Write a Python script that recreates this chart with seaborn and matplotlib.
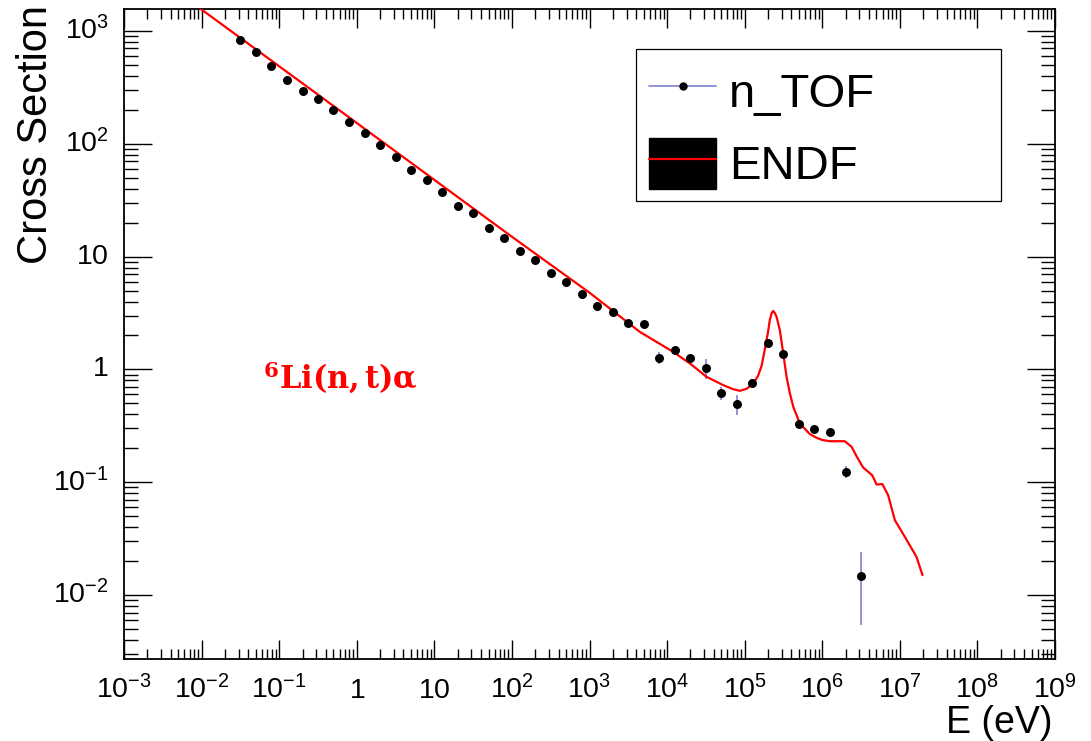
import numpy as np
import matplotlib
matplotlib.use("Agg")
import matplotlib.pyplot as plt
import seaborn as sns
from matplotlib.ticker import FixedLocator, LogLocator, FuncFormatter, NullFormatter
from matplotlib.lines import Line2D
from matplotlib.patches import Patch, Rectangle
from matplotlib.legend_handler import HandlerTuple

# ---------------- data ----------------
ntof_energy = [0.0316, 0.0501, 0.0794, 0.126, 0.200, 0.316, 0.501, 0.794,
               1.26, 2.00, 3.16, 5.01, 7.94, 12.6, 20.0, 31.6, 50.1, 79.4,
               126, 200, 316, 501, 794, 1.26e3, 2.00e3, 3.16e3, 5.01e3, 7.94e3,
               1.26e4, 2.00e4, 3.16e4, 5.01e4, 7.94e4, 1.26e5, 2.00e5, 3.16e5,
               5.01e5, 7.94e5, 1.26e6, 2.00e6, 3.16e6]
ntof_xs = [836, 646, 488, 365, 293, 248, 198, 156,
           124, 98.0, 76.2, 58.9, 47.7, 37.1, 28.0, 24.2, 18.0, 14.5,
           11.2, 9.31, 7.18, 5.94, 4.62, 3.66, 3.24, 2.59, 2.51, 1.27,
           1.49, 1.27, 1.03, 0.616, 0.492, 0.756, 1.70, 1.37,
           0.327, 0.296, 0.278, 0.124, 0.0148]
ntof_err = [12, 10, 7, 5, 4, 4, 3, 2.5,
            2, 1.5, 1.2, 0.9, 0.8, 0.6, 0.5, 0.4, 0.3, 0.3,
            0.2, 0.2, 0.15, 0.12, 0.1, 0.1, 0.12, 0.1, 0.12, 0.16,
            0.05, 0.07, 0.20, 0.076, 0.10, 0.06, 0.06, 0.05,
            0.015, 0.008, 0.008, 0.015, 0.0094]

endf_energy = [6.31e-3, 1.0e-2, 1.0, 100, 1.0e3, 4.46e3, 1.20e4, 2.0e4, 3.23e4,
               5.28e4, 7.08e4, 8.71e4, 1.07e5, 1.29e5, 1.48e5, 1.65e5, 1.82e5,
               2.0e5, 2.11e5, 2.23e5, 2.33e5, 2.45e5, 2.58e5, 2.84e5, 3.14e5,
               3.47e5, 3.83e5, 4.23e5, 5.14e5, 6.92e5, 8.43e5, 1.0e6, 1.25e6,
               1.58e6, 1.95e6, 2.39e6, 2.82e6, 3.37e6, 4.42e6, 5.01e6, 5.96e6,
               7.06e6, 8.63e6, 1.16e7, 1.64e7, 1.96e7]
endf_xs = [1950, 1549, 153, 15.0, 4.79, 2.15, 1.43, 1.12, 0.859,
           0.726, 0.668, 0.646, 0.676, 0.752, 0.871, 1.07, 1.51,
           2.14, 2.75, 3.16, 3.30, 3.16, 2.92, 2.23, 1.39,
           0.859, 0.612, 0.467, 0.332, 0.267, 0.248, 0.237, 0.231,
           0.231, 0.231, 0.206, 0.166, 0.135, 0.115, 0.0955, 0.0962,
           0.0769, 0.0461, 0.0328, 0.0218, 0.0150]

x_ticks = [1e-3, 1e-2, 1e-1, 1, 10, 1e2, 1e3, 1e4, 1e5, 1e6, 1e7, 1e8, 1e9]
y_ticks = [1e-2, 1e-1, 1, 10, 1e2, 1e3]
x_limits = (1e-3, 1e9)
y_limits = (2.71e-3, 1567)

series_names = ["n_TOF", "ENDF"]
reaction_label = r"$\mathbf{{}^{6}Li(n,t)\alpha}$"

# ---------------- style ----------------
sns.set_theme(style="white")
plt.rcParams["font.family"] = ["Liberation Sans", "DejaVu Sans"]
plt.rcParams["mathtext.fontset"] = "custom"
plt.rcParams["mathtext.rm"] = "Liberation Sans"
plt.rcParams["mathtext.it"] = "Liberation Sans:italic"
plt.rcParams["mathtext.bf"] = "DejaVu Serif:bold"
plt.rcParams["mathtext.default"] = "rm"

err_color = "#7f80cc"
W, H = 1091, 741
fig = plt.figure(figsize=(W / 100, H / 100), dpi=100, facecolor="white")
ax = fig.add_axes([124 / W, 82 / H, 931 / W, 650 / H])
ax.set_facecolor("white")
ax.set_xscale("log")
ax.set_yscale("log")

ax.errorbar(ntof_energy, ntof_xs, yerr=ntof_err, fmt="none",
            ecolor=err_color, elinewidth=1.2, capsize=0, zorder=2)
sns.lineplot(x=endf_energy, y=endf_xs, ax=ax, color="#ff0000", linewidth=1.6,
             estimator=None, sort=False, zorder=3)
sns.scatterplot(x=ntof_energy, y=ntof_xs, ax=ax, color="black", s=42,
                edgecolor="black", linewidth=0, zorder=4)

ax.set_xlim(*x_limits)
ax.set_ylim(*y_limits)


def decade_fmt(v, pos):
    e = int(round(np.log10(v)))
    if e == 0:
        return r"$1$"
    if e == 1:
        return r"$10$"
    return r"$10^{%d}$" % e


ax.xaxis.set_major_locator(FixedLocator(x_ticks))
ax.yaxis.set_major_locator(FixedLocator(y_ticks))
ax.xaxis.set_minor_locator(LogLocator(base=10, subs=np.arange(2, 10), numticks=200))
ax.yaxis.set_minor_locator(LogLocator(base=10, subs=np.arange(2, 10), numticks=200))
ax.xaxis.set_major_formatter(FuncFormatter(decade_fmt))
ax.yaxis.set_major_formatter(FuncFormatter(decade_fmt))
ax.xaxis.set_minor_formatter(NullFormatter())
ax.yaxis.set_minor_formatter(NullFormatter())

ax.tick_params(axis="x", which="major", direction="in", length=14, width=1,
               top=True, bottom=True, pad=28, labelsize=20.5, color="black",
               labelcolor="black")
ax.tick_params(axis="x", which="minor", direction="in", length=7, width=1,
               top=True, bottom=True, color="black")
ax.tick_params(axis="y", which="major", direction="in", length=20, width=1,
               left=True, right=True, pad=11, labelsize=20.5, color="black",
               labelcolor="black")
ax.tick_params(axis="y", which="minor", direction="in", length=10, width=1,
               left=True, right=True, color="black")
for lab in ax.get_xticklabels():
    lab.set_verticalalignment("baseline")
for lab in ax.get_yticklabels():
    lab.set_verticalalignment("center")

for sp in ax.spines.values():
    sp.set_color("black")
    sp.set_linewidth(1.3)
    sp.set_visible(True)
ax.grid(False)

ax.set_ylabel("Cross Section", fontsize=30, loc="top", color="black")
ax.yaxis.label.set_verticalalignment("baseline")
ax.yaxis.set_label_coords(-0.0827, 1.006)
ax.set_xlabel("E (eV)", fontsize=27, loc="right", color="black")
ax.xaxis.label.set_verticalalignment("baseline")
ax.xaxis.set_label_coords(0.9968, -0.1146)

ax.text(0.1493, 0.415, reaction_label, transform=ax.transAxes, color="#ff0000",
        fontsize=22, ha="left", va="baseline")

# legend
h_ntof = Line2D([], [], color=err_color, lw=1.2, marker="o", ms=5,
                mfc="black", mec="black")
h_endf = (Patch(facecolor="black", edgecolor="black"),
          Line2D([], [], color="#ff0000", lw=1.6))
leg = ax.legend([h_ntof, h_endf], series_names,
                handler_map={tuple: HandlerTuple(ndivide=1, pad=0)},
                loc="upper left", bbox_to_anchor=(649 / W, 1 - 65 / H),
                bbox_transform=fig.transFigure, frameon=False, fontsize=34,
                handlelength=1.42, handleheight=1.3, handletextpad=0.28,
                labelspacing=0.45, borderpad=0, borderaxespad=0)
for t in leg.get_texts():
    t.set_color("black")
fig.add_artist(Rectangle((636 / W, 1 - 201 / H), 365 / W, 152 / H,
                         transform=fig.transFigure, fill=False,
                         edgecolor="black", linewidth=0.9))

fig.savefig("out.png", dpi=100, facecolor="white")
